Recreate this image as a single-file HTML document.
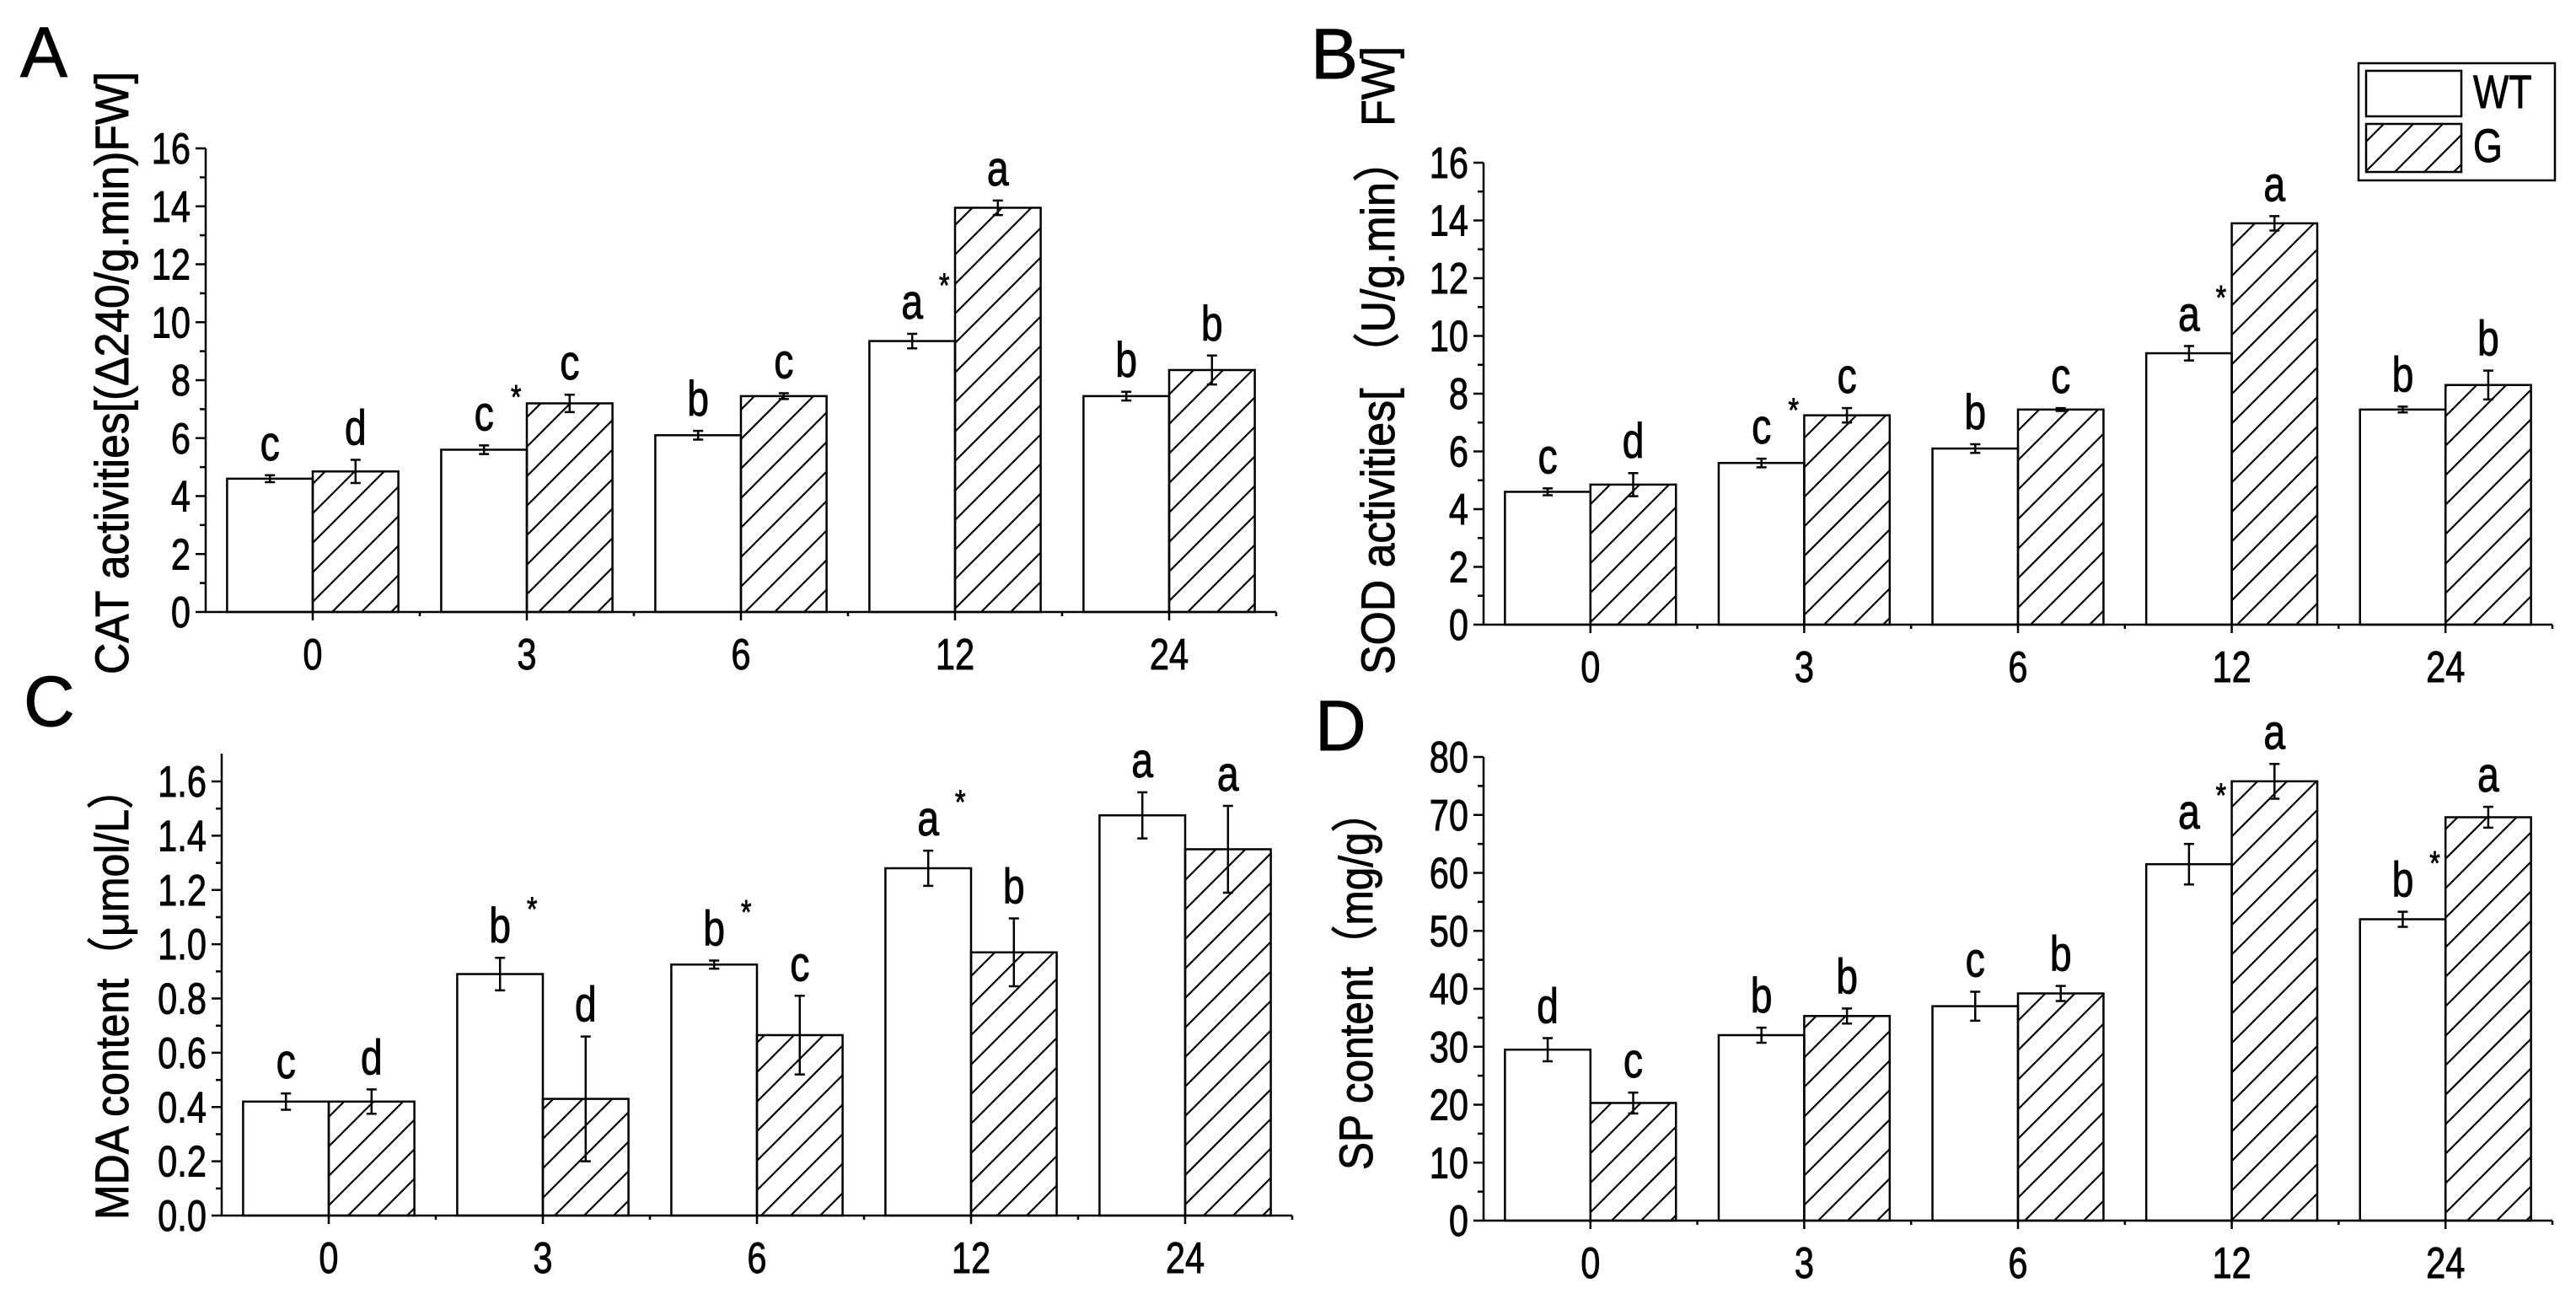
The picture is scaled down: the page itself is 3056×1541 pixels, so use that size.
<!DOCTYPE html>
<html><head><meta charset="utf-8"><style>
html,body{margin:0;padding:0;background:#fff;}
svg{display:block;}
text{font-family:"Liberation Sans","Noto Sans CJK SC",sans-serif;fill:#000;stroke:#000;stroke-width:0.9;}
</style></head><body>
<svg id="fig" width="3056" height="1541" viewBox="0 0 3056 1541" xmlns="http://www.w3.org/2000/svg">
<defs>
<pattern id="hatch" patternUnits="userSpaceOnUse" width="35" height="35">
<path d="M0,35 L35,0 M-5,5 L5,-5 M30,40 L40,30" stroke="#000" stroke-width="2.2"/>
</pattern>
</defs>
<g id="root"></g>
</svg>
<script>
const categories = ["0","3","6","12","24"];
// Panel A (CAT)
const aWT = [4.6, 5.6, 6.1, 9.35, 7.45];
const aG = [4.85, 7.2, 7.45, 13.95, 8.35];
const aWTerr = [0.12, 0.15, 0.15, 0.25, 0.15];
const aGerr = [0.4, 0.3, 0.1, 0.25, 0.5];
const aWTlab = ["c","c","b","a","b"];
const aWTstar = [false,true,false,true,false];
const aGlab = ["d","c","c","a","b"];
const aTicks = ["0","2","4","6","8","10","12","14","16"];
// Panel B (SOD)
const bWT = [4.6, 5.6, 6.1, 9.4, 7.45];
const bG = [4.85, 7.25, 7.45, 13.9, 8.3];
const bWTerr = [0.12, 0.15, 0.15, 0.25, 0.1];
const bGerr = [0.4, 0.25, 0.05, 0.25, 0.5];
const bWTlab = ["c","c","b","a","b"];
const bWTstar = [false,true,false,true,false];
const bGlab = ["d","c","c","a","b"];
const bTicks = ["0","2","4","6","8","10","12","14","16"];
// Panel C (MDA)
const cWT = [0.42, 0.89, 0.925, 1.28, 1.475];
const cG = [0.42, 0.43, 0.665, 0.97, 1.35];
const cWTerr = [0.03, 0.06, 0.015, 0.065, 0.085];
const cGerr = [0.045, 0.23, 0.145, 0.125, 0.16];
const cWTlab = ["c","b","b","a","a"];
const cWTstar = [false,true,true,true,false];
const cGlab = ["d","d","c","b","a"];
const cTicks = ["0.0","0.2","0.4","0.6","0.8","1.0","1.2","1.4","1.6"];
// Panel D (SP)
const dWT = [29.5, 32, 37, 61.5, 52];
const dG = [20.3, 35.3, 39.2, 75.8, 69.6];
const dWTerr = [2, 1.3, 2.5, 3.5, 1.3];
const dGerr = [1.8, 1.3, 1.3, 3, 1.8];
const dWTlab = ["d","b","c","a","b"];
const dWTstar = [false,false,false,true,true];
const dGlab = ["c","b","b","a","a"];
const dTicks = ["0","10","20","30","40","50","60","70","80"];

const NS = "http://www.w3.org/2000/svg";
const root = document.getElementById("root");
function el(tag, attrs, parent){
  const e = document.createElementNS(NS, tag);
  for (const k in attrs) e.setAttribute(k, attrs[k]);
  (parent||root).appendChild(e);
  return e;
}
function txt(parent, x, y, s, size, anchor, sx){
  const t = el("text", {transform:"translate("+x+","+y+") scale("+(sx||0.8)+",1)", "font-size":size, "text-anchor":anchor||"middle"}, parent);
  t.textContent = s;
  return t;
}

function panel(cfg){
  const g = el("g", {});
  
  
  const x0 = cfg.axisX, x1 = cfg.axisEnd, yb = cfg.y0, yt = cfg.yTopPix;
  const slot = (x1 - x0) / categories.length;
  const xs = i => x0 + slot * (i + 0.5);
  const ys = v => yb - (v / cfg.ymax) * (yb - cfg.ymaxPix);
  const bw = slot * 0.4;
  const bars = el("g", {}, g);
  
  
  categories.forEach((c, i) => {
    const cx = xs(i);
    const r1 = el("rect", {x: cx - bw, y: ys(cfg.wt[i]), width: bw, height: yb - ys(cfg.wt[i]), fill: "#fff", stroke: "#000", "stroke-width": 2.5}, bars);
    
    
    const r2 = el("rect", {x: cx, y: ys(cfg.g[i]), width: bw, height: yb - ys(cfg.g[i]), fill: "url(#hatch)", stroke: "#000", "stroke-width": 2.5}, bars);
    
    
    [[cx - bw/2, cfg.wt[i], cfg.wtErr[i], cfg.wtLab[i], cfg.wtStar[i], 'wt'], [cx + bw/2, cfg.g[i], cfg.gErr[i], cfg.gLab[i], false, 'g']].forEach(([ex, v, e, lab, star, s]) => {
      const eb = el("path", {d: "M"+(ex-6)+","+ys(v+e)+" h12 M"+ex+","+ys(v+e)+" V"+ys(v-e)+" M"+(ex-6)+","+ys(v-e)+" h12", stroke: "#000", "stroke-width": 2.5, fill: "none"}, bars);
      
      
      const lt = txt(bars, ex, ys(v + e) - 18, lab, 58);
      
      
      if (star) {
        const st = txt(bars, ex + 38, ys(v + e) - 44, "*", 40);
        
        
      }
    });
  });
  const ax = el("path", {d: "M"+x0+","+yt+" V"+yb+" H"+x1, stroke: "#000", "stroke-width": 2.5, fill: "none"}, g);
  
  
  let tk = "";
  const step = cfg.ymax / (cfg.ticks.length - 1);
  cfg.ticks.forEach((t, i) => {
    const y = ys(step * i);
    tk += "M"+(x0-12)+","+y+" H"+x0+" ";
    if (i < cfg.ticks.length - 1) tk += "M"+(x0-7)+","+ys(step*(i+0.5))+" H"+x0+" ";
    const tl = txt(g, x0 - 18, y + 18, t, 52, "end");
    
    
  });
  categories.forEach((c, i) => {
    tk += "M"+xs(i)+","+yb+" v10 ";
    tk += "M"+(x0+slot*(i+1))+","+yb+" v5 ";
    const xl = txt(g, xs(i), yb + 68, c, 52);
    
    
  });
  const tp = el("path", {d: tk, stroke: "#000", "stroke-width": 2.5}, g);
  
  
  const yl = el("text", {transform: "translate("+cfg.labX+","+cfg.labBottom+") rotate(-90)", "font-size": 56, "text-anchor": "start", textLength: cfg.labBottom - cfg.labTop, lengthAdjust: "spacingAndGlyphs"}, g);
  yl.textContent = cfg.ylabel;
  
  
  const pl = el("text", {x: cfg.letterX, y: cfg.letterY, "font-size": 84}, g);
  pl.textContent = cfg.letter;
  
  
}

panel({name:"panel-a", axisX:244, axisEnd:1514, y0:726, ymax:16, ymaxPix:176, yTopPix:176,
  wt:aWT, g:aG, wtErr:aWTerr, gErr:aGerr, wtLab:aWTlab, wtStar:aWTstar, gLab:aGlab, ticks:aTicks,
  ylabel:"CAT activities[(Δ240/g.min)FW]", labX:152, labBottom:800, labTop:85, letter:"A", letterX:24, letterY:91});
panel({name:"panel-b", axisX:1760, axisEnd:3028, y0:741, ymax:16, ymaxPix:193, yTopPix:193,
  wt:bWT, g:bG, wtErr:bWTerr, gErr:bGerr, wtLab:bWTlab, wtStar:bWTstar, gLab:bGlab, ticks:bTicks,
  ylabel:"SOD activities[ （U/g.min） FW]", labX:1654, labBottom:800, labTop:55, letter:"B", letterX:1555, letterY:93});
panel({name:"panel-c", axisX:263, axisEnd:1533, y0:1442, ymax:1.6, ymaxPix:927, yTopPix:894,
  wt:cWT, g:cG, wtErr:cWTerr, gErr:cGerr, wtLab:cWTlab, wtStar:cWTstar, gLab:cGlab, ticks:cTicks,
  ylabel:"MDA content（μmol/L）", labX:152, labBottom:1447, labTop:910, letter:"C", letterX:28, letterY:861});
panel({name:"panel-d", axisX:1760, axisEnd:3028, y0:1448, ymax:80, ymaxPix:898, yTopPix:898,
  wt:dWT, g:dG, wtErr:dWTerr, gErr:dGerr, wtLab:dWTlab, wtStar:dWTstar, gLab:dGlab, ticks:dTicks,
  ylabel:"SP content（mg/g）", labX:1628, labBottom:1388, labTop:938, letter:"D", letterX:1560, letterY:890});

const lg = el("g", {});


const lb = el("rect", {x:2798, y:75, width:233, height:139, fill:"#fff", stroke:"#000", "stroke-width":2.5}, lg);


const s1 = el("rect", {x:2807, y:84, width:113, height:54, fill:"#fff", stroke:"#000", "stroke-width":2.5}, lg);


const s2 = el("rect", {x:2807, y:147, width:113, height:57, fill:"url(#hatch)", stroke:"#000", "stroke-width":2.5}, lg);


const t1 = txt(lg, 2934, 128, "WT", 56, "start");


const t2 = txt(lg, 2934, 192, "G", 56, "start");


</script>
</body></html>
